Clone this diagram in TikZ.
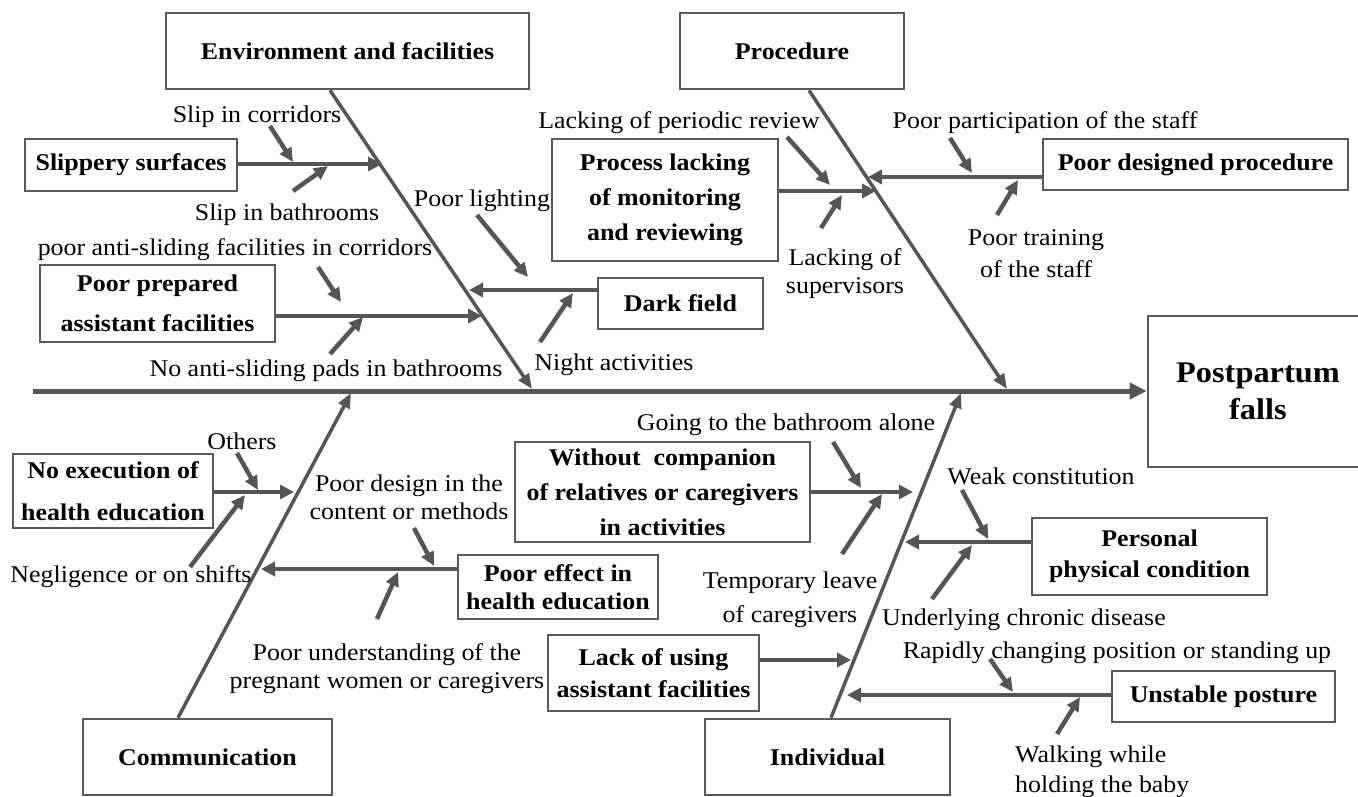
\documentclass[tikz,border=0pt]{standalone}
\usepackage{fontspec}
\setmainfont{Liberation Serif}[FakeStretch=1.08]
\usetikzlibrary{arrows.meta,calc}
\definecolor{lc}{HTML}{555555}
\definecolor{bc}{HTML}{5A5A5A}
\newcommand\fsz[2]{\fontsize{#1}{#2}\selectfont}
\tikzset{
 box/.style={draw=bc,line width=2.6pt,inner sep=0pt,align=center,font=\bfseries\fsz{24}{30}},
 lbl/.style={inner sep=0pt,align=center,yshift=-3pt,font=\fsz{24}{28}},
 cause/.style={draw=lc,line width=4.5pt,-{Triangle[length=14pt,width=13pt]}},
 branch/.style={draw=lc,line width=4.5pt,-{Triangle[length=14pt,width=14pt]}},
 bone/.style={draw=lc,line width=3.5pt,-{Triangle[length=15pt,width=12pt]}},
 spine/.style={draw=lc,line width=5pt,-{Triangle[length=17pt,width=16pt]}},
}
\begin{document}
\begin{tikzpicture}[x=1pt,y=-1pt]
\useasboundingbox (0,0) rectangle (1358,797);
\fill[white] (0,0) rectangle (1358,797);

% boxes
\node[box,minimum width=363pt,minimum height=76pt] (env) at (347.5,51) {Environment and facilities};
\node[box,minimum width=224pt,minimum height=76pt] (proc) at (792,51) {Procedure};
\node[box,minimum width=212pt,minimum height=52pt] (slip) at (131,165) {Slippery surfaces};
\node[box,minimum width=235pt,minimum height=77pt,font=\bfseries\fsz{24}{40}] (prep) at (157.5,303.5) {Poor prepared\\assistant facilities};
\node[box,minimum width=165pt,minimum height=51pt] (dark) at (680.5,303.5) {Dark field};
\node[box,minimum width=226pt,minimum height=122pt,font=\bfseries\fsz{24}{35}] (mon) at (665,200) {Process lacking\\of monitoring\\and reviewing};
\node[box,minimum width=305pt,minimum height=51pt] (pdp) at (1195.5,164.5) {Poor designed procedure};
\node[box,minimum width=220pt,minimum height=151pt,font=\bfseries\fsz{30}{37}] (post) at (1258,391.5) {Postpartum\\falls};
\node[box,minimum width=200pt,minimum height=74pt,font=\bfseries\fsz{24}{42}] (noex) at (113,491) {No execution of\\health education};
\node[box,minimum width=200pt,minimum height=64pt,font=\bfseries\fsz{24}{28}] (peff) at (558,587) {Poor effect in\\health education};
\node[box,minimum width=295pt,minimum height=100pt,font=\bfseries\fsz{24}{35}] (comp) at (662.5,492) {Without~ companion\\of relatives or caregivers\\in activities};
\node[box,minimum width=211pt,minimum height=76pt,font=\bfseries\fsz{24}{32}] (lack) at (653.5,673) {Lack of using\\assistant facilities};
\node[box,minimum width=235pt,minimum height=77pt,font=\bfseries\fsz{24}{31}] (pers) at (1149.5,556.5) {Personal\\physical condition};
\node[box,minimum width=223pt,minimum height=51pt] (unst) at (1223.5,696.5) {Unstable posture};
\node[box,minimum width=249pt,minimum height=76pt] (comm) at (207.5,757) {Communication};
\node[box,minimum width=245pt,minimum height=76pt] (indiv) at (827.5,757) {Individual};

% spine
\coordinate (s0) at (33,391);
\draw[spine] (s0) -- (post.west |- s0);

% bones
\coordinate (e0) at (330,0); \coordinate (e1) at (532,389);
\draw[bone] (env.south -| e0) -- (e1);
\coordinate (p0) at (809,0); \coordinate (p1) at (1007,389);
\draw[bone] (proc.south -| p0) -- (p1);
\coordinate (c0) at (178,0); \coordinate (c1) at (351,393);
\draw[bone] (comm.north -| c0) -- (c1);
\coordinate (i0) at (831,0); \coordinate (i1) at (961,393);
\draw[bone] (indiv.north -| i0) -- (i1);

% branches
\coordinate (b1) at (382,164); \draw[branch] (slip.east |- b1) -- (b1);
\coordinate (b2) at (482,316); \draw[branch] (prep.east |- b2) -- (b2);
\coordinate (b3) at (469,290); \draw[branch] (dark.west |- b3) -- (b3);
\coordinate (b4) at (876,191); \draw[branch] (mon.east |- b4) -- (b4);
\coordinate (b5) at (868,177); \draw[branch] (pdp.west |- b5) -- (b5);
\coordinate (b6) at (294,492); \draw[branch] (noex.east |- b6) -- (b6);
\coordinate (b7) at (261,569); \draw[branch] (peff.west |- b7) -- (b7);
\coordinate (b8) at (913,492); \draw[branch] (comp.east |- b8) -- (b8);
\coordinate (b9) at (851,660); \draw[branch] (lack.east |- b9) -- (b9);
\coordinate (b10) at (905,542); \draw[branch] (pers.west |- b10) -- (b10);
\coordinate (b11) at (847,695); \draw[branch] (unst.west |- b11) -- (b11);

% labels
\node[lbl] (t1) at (257,114) {Slip in corridors};
\node[lbl] (t2) at (287,212) {Slip in bathrooms};
\node[lbl] (t3) at (235,247) {poor anti-sliding facilities in corridors};
\node[lbl] (t4) at (482,198) {Poor lighting};
\node[lbl] (t5) at (326,368) {No anti-sliding pads in bathrooms};
\node[lbl] (t6) at (614,362) {Night activities};
\node[lbl] (t7) at (679,120) {Lacking of periodic review};
\node[lbl] (t8) at (845,271) {Lacking of\\supervisors};
\node[lbl] (t9) at (1045,120) {Poor participation of the staff};
\node[lbl,font=\fsz{24}{32}] (t10) at (1036,251) {Poor training\\of the staff};
\node[lbl] (t11) at (242,438) {Others};
\node[lbl] (t12) at (409,494) {Poor design in the\\content or methods};
\node[lbl] (t13) at (131,574) {Negligence or on shifts};
\node[lbl] (t14) at (387,666) {Poor understanding of the\\pregnant women or caregivers};
\node[lbl] (t15) at (786,422) {Going to the bathroom alone};
\node[lbl,font=\fsz{24}{34}] (t16) at (790,597) {Temporary leave\\of caregivers};
\node[lbl] (t17) at (1041,473) {Weak constitution};
\node[lbl] (t18) at (1024,617) {Underlying chronic disease};
\node[lbl] (t19) at (1117,650) {Rapidly changing position or standing up};
\node[lbl,align=left,anchor=west,font=\fsz{24}{30}] (t20) at (1015,769) {Walking while\\holding the baby};

% cause arrows
\foreach \n/\xa/\ya/\xb/\yb in {
 1/270/126/293/162, 2/293/191/328/166, 3/318/267/341/302, 4/330/354/363/317,
 5/477/215/528/277, 6/540/342/573/293, 7/787/137/830/185, 8/821/228/842/195,
 9/950/138/972/173, 10/997/215/1018/180, 11/237/453/258/490, 12/190/567/245/495,
 13/414/528/434/566, 14/377/619/398/572, 15/833/442/861/488, 16/842/554/882/494,
 17/962/490/988/539, 18/932/599/972/545, 19/990/659/1013/692, 20/1057/734/1080/697}{
 \coordinate (a\n s) at (\xa,\ya);
 \coordinate (a\n e) at (\xb,\yb);
 \draw[cause] (a\n s) -- (a\n e);
}
\end{tikzpicture}
\end{document}
